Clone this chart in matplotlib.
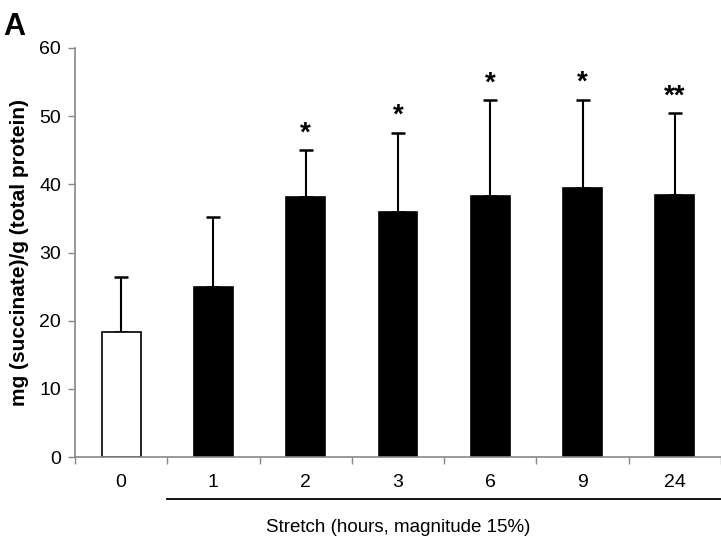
import matplotlib.pyplot as plt
import numpy as np

plt.rcParams['font.family'] = ['Liberation Sans', 'DejaVu Sans']

# Succinate per total protein after stretch
hours = ['0', '1', '2', '3', '6', '9', '24']
means = [18.3, 25.0, 38.1, 35.9, 38.3, 39.4, 38.5]
sds = [8.1, 10.2, 6.9, 11.6, 14.0, 13.0, 11.9]
stars = ['', '', '*', '*', '*', '*', '**']
bar_colors = ['white', 'black', 'black', 'black', 'black', 'black', 'black']

fig = plt.figure(figsize=(7.21, 5.39), dpi=100)
ax = fig.add_axes([0.104, 0.152, 0.896, 0.759])

x = np.arange(len(hours))
ax.bar(x, means, width=0.42, color=bar_colors, edgecolor='black', linewidth=1.2, zorder=2)
ax.errorbar(x, means, yerr=[np.zeros(len(sds)), sds], fmt='none', ecolor='black',
            elinewidth=1.5, capsize=5, capthick=1.8, zorder=1)

for xi, m, s, st in zip(x, means, sds, stars):
    if st:
        ax.text(xi, m + s + 0.6, st, ha='center', va='bottom', fontsize=20, fontweight='bold')

ax.set_xlim(-0.5, 6.5)
ax.set_ylim(0, 60)
ax.set_yticks(range(0, 61, 10))
ax.set_xticks(x)
ax.set_xticklabels(hours)
ax.set_xticks(np.arange(-0.5, 7.0, 1.0), minor=True)
ax.tick_params(axis='x', which='major', length=0, labelsize=14, pad=12)
ax.tick_params(axis='x', which='minor', length=5, color='#888888', width=1)
ax.tick_params(axis='y', length=5, color='#888888', width=1, labelsize=14, pad=5)

for side in ['top', 'right']:
    ax.spines[side].set_visible(False)
for side in ['left', 'bottom']:
    ax.spines[side].set_color('#888888')
    ax.spines[side].set_linewidth(1.2)

ax.set_ylabel('mg (succinate)/g (total protein)', fontsize=15, fontweight='bold', labelpad=7)

# stretch bracket under the axis
trans = ax.get_xaxis_transform()
ax.plot([0.5, 6.5], [-0.103, -0.103], color='black', lw=1.3, transform=trans, clip_on=False)
ax.text(3.0, -0.172, 'Stretch (hours, magnitude 15%)', transform=trans, ha='center',
        va='center', fontsize=13.5)

fig.text(0.004, 0.978, 'A', fontsize=22, fontweight='bold', va='top', ha='left')

plt.savefig('out.png', dpi=100)
plt.close()
